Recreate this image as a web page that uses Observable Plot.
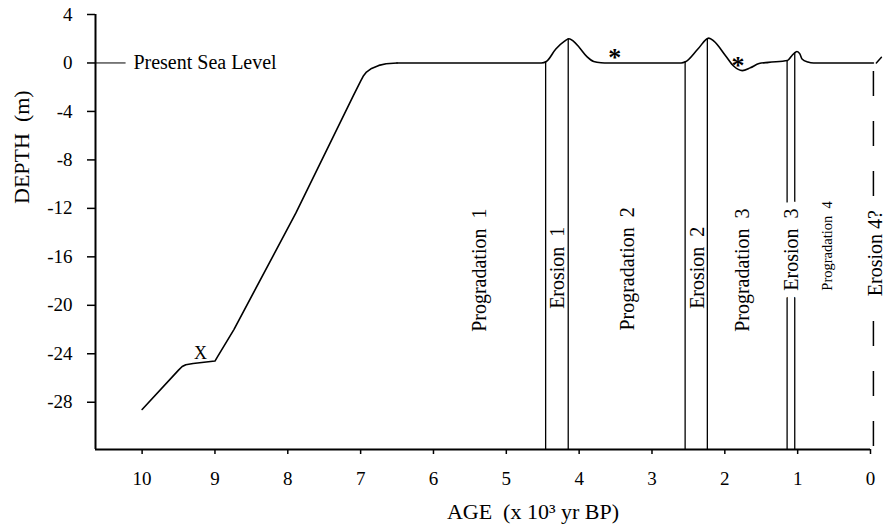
<!DOCTYPE html>
<html><head><meta charset="utf-8">
<script src="https://cdn.jsdelivr.net/npm/d3@7"></script>
<script src="https://cdn.jsdelivr.net/npm/@observablehq/plot@0.6"></script>
<style>
body{margin:0;background:#fff}
svg text{font-family:"Liberation Serif","Times New Roman",serif;font-variant:normal}
</style>
</head><body><div id="chart"></div>
<script>
// ---- data ----
const ageTicks = [10, 9, 8, 7, 6, 5, 4, 3, 2, 1, 0];
const depthTicks = [4, 0, -4, -8, -12, -16, -20, -24, -28];

// rising limb (drawn with straight segments)
const riseAge = [10.0, 9.5, 9.45, 9.4, 9.3, 9.0, 8.97, 8.74, 7.89, 7.1, 7.0, 6.96, 6.92, 6.85, 6.75, 6.65, 6.5];
const riseDepth = [-28.6, -25.35, -25.05, -24.9, -24.8, -24.6, -24.3, -22.0, -12.4, -2.7, -1.5, -1.05, -0.75, -0.45, -0.2, -0.07, 0];

// highstand part (smoothed)
const highAge = [6.5,
  4.52, 4.45, 4.32, 4.2, 4.14, 4.08, 4.0, 3.89, 3.8, 3.7, 3.6,
  2.6, 2.54, 2.37, 2.22, 2.15, 1.99, 1.88, 1.76, 1.65, 1.53, 1.4,
  1.14, 1.08, 1.01, 0.97, 0.94, 0.86, 0.78, -0.04];
const highDepth = [0,
  0, 0.12, 1.15, 1.8, 2.0, 1.8, 1.3, 0.5, 0.12, 0.02, 0,
  0, 0.1, 1.15, 2.05, 1.8, 0.6, -0.25, -0.63, -0.4, -0.05, 0.05,
  0.2, 0.6, 0.95, 0.75, 0.33, 0.08, 0, 0];

const tailAge = [-0.08, -0.15];
const tailDepth = [0, 0.47];

const erosionAge = [4.46, 4.15, 2.545, 2.24, 1.145, 1.04];
const erosionTop = [0.1, 2.0, 0.1, 2.0, 0.2, 0.85];

const erosion4Age = [-0.04];
const erosion4Top = [-0.7];

const phaseLabels = ["Progradation\u00a0 1", "Erosion\u00a0 1", "Progradation\u00a0 2", "Erosion\u00a0 2",
  "Progradation\u00a0 3", "Erosion\u00a0 3", "Progradation\u00a0 4", "Erosion 4?"];
const phaseAge = [5.37, 4.29, 3.34, 2.37, 1.76, 1.09, 0.59, -0.07];
const phaseDepth = [-17.1, -16.9, -17.0, -16.9, -17.1, -15.4, -15.1, -15.7];
const phaseSmall = [false, false, false, false, false, false, true, false];
const phaseHalo = [false, false, false, false, false, true, false, true];

const starAge = [3.51, 1.82];
const starDepth = [0.43, -0.2];

const xMarkAge = [9.2];
const xMarkDepth = [-23.95];

const seaLevelLabel = "Present Sea Level";
const seaLevelAge = [10.12];
const seaLegendAge = [10.64, 10.22];

const xTitle = "AGE\u00a0 (x 10\u00b3 yr BP)";
const yTitle = "DEPTH\u00a0 (m)";

// ---- chart ----
const yMin = -31.9, yMax = 4, xLeft = 10.64, xRight = 0;
const idx = d3.range(phaseLabels.length);
const font = '"Liberation Serif", "Times New Roman", serif';
const pts = (ax, dy) => ax.map((a, i) => ({a, d: dy[i]}));

const chart = Plot.plot({
  width: 892, height: 530,
  marginLeft: 95, marginRight: 22, marginTop: 14, marginBottom: 81,
  style: {fontFamily: font, background: "white", color: "black", overflow: "visible"},
  x: {domain: [xLeft, xRight]},
  y: {domain: [yMin, yMax]},
  marks: [
    Plot.axisX(ageTicks, {tickSize: 5, tickPadding: 17, fontSize: 19, fontFamily: font, fontVariant: "normal",
      tickFormat: d => String(d), label: null, strokeWidth: 1.5}),
    Plot.axisY(depthTicks, {tickSize: 8, tickPadding: 15, fontSize: 19, fontFamily: font, fontVariant: "normal",
      tickFormat: d => String(d), label: null, strokeWidth: 1.5}),
    Plot.ruleX([xLeft], {y1: yMin, y2: yMax, strokeWidth: 2}),
    Plot.ruleY([yMin], {x1: xLeft, x2: xRight, strokeWidth: 2}),
    // present sea level legend
    Plot.ruleY([0], {x1: seaLegendAge[0], x2: seaLegendAge[1], strokeWidth: 1}),
    Plot.text([seaLevelLabel], {x: seaLevelAge[0], y: 0, text: d => d, textAnchor: "start", fontSize: 20}),
    // erosion boundaries
    Plot.ruleX(d3.range(erosionAge.length), {x: i => erosionAge[i], y1: i => erosionTop[i], y2: yMin, strokeWidth: 1.3}),
    Plot.ruleX(erosion4Age, {x: d => d, y1: erosion4Top[0], y2: yMin, strokeWidth: 1.5, strokeDasharray: "25,25"}),
    // sea level curve
    Plot.line(pts(riseAge, riseDepth), {x: "a", y: "d", strokeWidth: 1.6, strokeLinejoin: "round"}),
    Plot.line(pts(highAge, highDepth), {x: "a", y: "d", curve: "monotone-x", strokeWidth: 1.6}),
    Plot.line(pts(tailAge, tailDepth), {x: "a", y: "d", strokeWidth: 1.5}),
    // phase labels
    Plot.text(idx.filter(i => phaseHalo[i]), {x: i => phaseAge[i], y: i => phaseDepth[i], text: i => phaseLabels[i],
      rotate: -90, fontSize: 20, stroke: "white", strokeWidth: 15, strokeLinejoin: "round", fill: "black"}),
    Plot.text(idx.filter(i => !phaseHalo[i] && !phaseSmall[i]), {x: i => phaseAge[i], y: i => phaseDepth[i], text: i => phaseLabels[i],
      rotate: -90, fontSize: 20}),
    Plot.text(idx.filter(i => phaseSmall[i]), {x: i => phaseAge[i], y: i => phaseDepth[i], text: i => phaseLabels[i],
      rotate: -90, fontSize: 14.5}),
    // markers
    Plot.text(d3.range(starAge.length), {x: i => starAge[i], y: i => starDepth[i], text: () => "*", fontSize: 26, fontWeight: "bold"}),
    Plot.text(xMarkAge, {x: d => d, y: xMarkDepth[0], text: () => "X", fontSize: 18}),
    // axis titles
    Plot.text([xTitle], {frameAnchor: "bottom", text: d => d, dx: 50, dy: 69, fontSize: 22}),
    Plot.text([yTitle], {frameAnchor: "left", text: d => d, rotate: -90, dx: -74, dy: -28, fontSize: 22})
  ]
});
document.getElementById("chart").appendChild(chart);
</script>
</body></html>
